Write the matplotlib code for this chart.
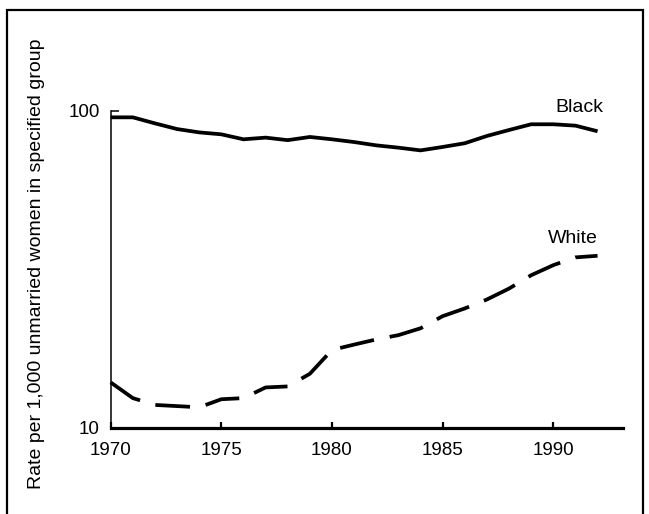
import matplotlib
matplotlib.use("Agg")
import matplotlib.pyplot as plt
from matplotlib.patches import Rectangle

plt.rcParams['font.family'] = ['Liberation Sans', 'DejaVu Sans']
plt.rcParams['lines.scale_dashes'] = False

years = list(range(1970, 1993))
# births per 1,000 unmarried women
black = [95.5, 95.5, 91.4, 87.7, 85.6, 84.4, 81.4, 82.4, 80.9, 82.8, 81.4,
         79.8, 77.9, 76.6, 75.1, 77.0, 79.1, 83.4, 87.1, 90.8, 90.8, 89.9, 86.3]
white = [13.9, 12.4, 11.8, 11.7, 11.6, 12.3, 12.4, 13.4, 13.5, 14.8, 17.6,
         18.3, 19.0, 19.6, 20.6, 22.5, 23.8, 25.4, 27.5, 30.3, 32.6, 34.5, 34.9]
xticks = [1970, 1975, 1980, 1985, 1990]

W, H = 649, 514
fig = plt.figure(figsize=(W / 100, H / 100), dpi=100)
ax = fig.add_axes([110.7 / W, 1 - 427.7 / H, (623 - 110.7) / W, (427.7 - 111) / H])

ax.plot(years, black, color='black', lw=2.7, solid_capstyle='butt', clip_on=False)
ax.plot(years, white, color='black', lw=2.7, dashes=(25, 11.5), dash_capstyle='butt', clip_on=False)

ax.set_yscale('log')
ax.set_ylim(10, 100)
ax.set_xlim(1970, 1993.15)
ax.set_yticks([10, 100])
ax.set_yticklabels(['10', '100'])
ax.yaxis.set_minor_locator(matplotlib.ticker.NullLocator())
ax.set_xticks(xticks)
ax.set_xticklabels([str(x) for x in xticks])

for s in ['top', 'right']:
    ax.spines[s].set_visible(False)
ax.spines['bottom'].set_linewidth(2.3)
ax.spines['left'].set_linewidth(1.1)
ax.tick_params(axis='x', direction='in', length=4, width=1.6, pad=10, labelsize=13.5)
ax.tick_params(axis='y', direction='in', length=6, width=1.1, pad=8, labelsize=13.5)

ax.text(1991.2, 99.5, 'Black', fontsize=14, ha='center', va='baseline', clip_on=False)
ax.text(1990.9, 38.3, 'White', fontsize=14, ha='center', va='baseline')

fig.text(37 / W, 1 - 264 / H, 'Rate per 1,000 unmarried women in specified group',
         rotation=90, fontsize=14, ha='center', va='center')

fig.patches.append(Rectangle((7 / W, -0.05), (643 - 7) / W, 1.05 - 10 / H,
                             transform=fig.transFigure, fill=False,
                             edgecolor='black', lw=1.6, clip_on=False))

fig.savefig('out.png', dpi=100)
